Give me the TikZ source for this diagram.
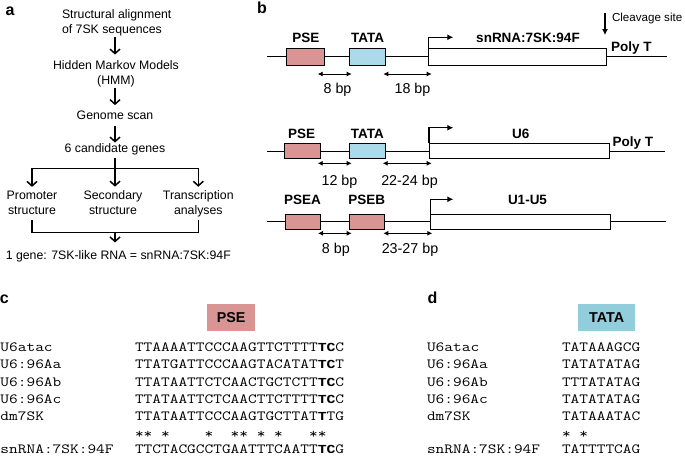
\documentclass[tikz,border=0pt]{standalone}
\usepackage{fontspec}
\setmainfont{Liberation Sans}
\newfontfamily\bmono{Liberation Mono}[Scale=0.875]
\usepackage{graphicx}
\usetikzlibrary{arrows.meta,calc}
\definecolor{psepink}{RGB}{217,149,148}
\definecolor{tatablue}{RGB}{172,218,235}
\definecolor{tatablue2}{RGB}{146,205,220}
\newcommand{\sq}[1]{\scalebox{1.207}[1]{\fontsize{14}{14}\selectfont\ttfamily #1}}
\newcommand{\bt}[1]{{\bmono\bfseries #1}}
\tikzset{
  every node/.style={inner sep=0pt, outer sep=0pt},
  panel/.style={font=\fontsize{16}{16}\selectfont\bfseries},
  flow/.style={font=\fontsize{12.3}{15}\selectfont, align=center},
  barrow/.style={line width=1.5pt, -{Straight Barb[length=4.5pt,width=10pt]}},
  treeline/.style={line width=1.1pt},
  lbl/.style={font=\fontsize{13.5}{13.5}\selectfont\bfseries},
  bplbl/.style={font=\fontsize{14.3}{14.3}\selectfont, anchor=base},
  dna/.style={line width=0.9pt},
  gbox/.style={draw, line width=0.8pt, rectangle},
  dbl/.style={line width=0.9pt, {Latex[length=5pt,width=5pt]}-{Latex[length=5pt,width=5pt]}},
  tss/.style={line width=1.1pt, -{Latex[length=6pt,width=6pt]}},
  mono/.style={anchor=base west},
  tag/.style={font=\fontsize{14.3}{14.3}\selectfont\bfseries}
}
\begin{document}
\begin{tikzpicture}[x=1pt,y=-1pt]
\useasboundingbox (0,0) rectangle (685,456);
% ---------------- panel a
\node[panel] (la) at (10,11.7) {a};
\node[flow, align=left] (n1) at (116.7,22.6) {Structural alignment\\of 7SK sequences};
\node[flow] (n2) at (116,74.2) {Hidden Markov Models\\(HMM)};
\node[flow] (n3) at (115,114.9) {Genome scan};
\node[flow] (n4) at (115,149.5) {6 candidate genes};
\node[flow] (p1) at (32,202.4) {Promoter\\structure};
\node[flow] (p2) at (113,202.4) {Secondary\\structure};
\node[flow] (p3) at (198.3,203.7) {Transcription\\analyses};
\node[flow] (n5) at (118.3,256.2) {1 gene: 7SK-like RNA = snRNA:7SK:94F};
\coordinate (split) at (115,168.3);
\coordinate (join) at (115,232.7);
\draw[barrow, shorten <=1.3pt, shorten >=6.4pt] (n1.south -| n3) -- (n2.north -| n3);
\draw[barrow, shorten <=0.3pt, shorten >=5.4pt] (n2.south -| n3) -- (n3.north);
\draw[barrow, shorten <=7.1pt, shorten >=1.2pt] (n3.south) -- (n4.north);
\draw[barrow, shorten <=3pt, shorten >=3.7pt] (n4.south) -- (n4.south |- p2.north);
\draw[treeline] (p1.north |- split) -- (p3.north |- split);
\draw[barrow, shorten >=3.7pt] (p1.north |- split) -- (p1.north);
\draw[barrow, shorten >=3.7pt] (p3.north |- split) -- (p3.north);
\draw[treeline] ([yshift=-5.6pt]p1.south) |- (join) -| ([yshift=-3pt]p3.south);
\draw[barrow, shorten >=8pt] (join) -- (n5.north -| join);
% ---------------- panel b
\node[panel] (lb) at (262,7.5) {b};
% row 1
\coordinate (r1a) at (267,56.7); \coordinate (r1b) at (667,56.7);
\draw[dna] (r1a) -- (r1b);
\node[gbox, fill=psepink, minimum width=37.3pt, minimum height=16.7pt] (pse1) at (305.35,56.65) {};
\node[gbox, fill=tatablue, minimum width=36.4pt, minimum height=16.7pt] (tata1) at (367.5,56.65) {};
\node[gbox, fill=white, minimum width=178.4pt, minimum height=16.7pt] (g1) at (517.5,56.65) {};
\node[lbl] (pse1l) at (305.8,38.3) {PSE};
\node[lbl] (tata1l) at (367.5,38.3) {TATA};
\node[lbl] (g1l) at (528,38.3) {snRNA:7SK:94F};
\draw[tss] (g1.north west) -- ++(0,-11) -- ++(25,0);
\node[lbl, anchor=base west] (poly1) at (611,51.4) {Poly T};
\node[font=\fontsize{11.6}{11.6}\selectfont, anchor=base west] (cleave) at (612,21.6) {Cleavage site};
\draw[line width=1.2pt, -{Latex[length=6pt,width=6pt]}] (cleave.north west) ++(-7,0) -- ++(0,21.9);
\coordinate (d1a) at (317.7,74); \coordinate (d1b) at (351.7,74);
\coordinate (d1c) at (383.3,74); \coordinate (d1d) at (431.7,74);
\draw[dbl] (d1a) -- (d1b);
\draw[dbl] (d1c) -- (d1d);
\node[bplbl] (bp1a) at (337.5,93.5) {8 bp};
\node[bplbl] (bp1b) at (412.5,93.5) {18 bp};
% row 2
\coordinate (r2a) at (267,151.5); \coordinate (r2b) at (665,151.5);
\draw[dna] (r2a) -- (r2b);
\node[gbox, fill=psepink, minimum width=35.7pt, minimum height=15pt] (pse2) at (302.15,150.8) {};
\node[gbox, fill=tatablue, minimum width=35.7pt, minimum height=15pt] (tata2) at (367.15,150.8) {};
\node[gbox, fill=white, minimum width=180pt, minimum height=15pt] (g2) at (519,150.8) {};
\node[lbl] (pse2l) at (301.7,134.3) {PSE};
\node[lbl] (tata2l) at (367.3,134.3) {TATA};
\node[lbl] (g2l) at (520.8,134.3) {U6};
\draw[tss] (g2.north west) -- ++(0,-15.6) -- ++(24.3,0);
\node[lbl, anchor=base west] (poly2) at (612.7,146.4) {Poly T};
\coordinate (d2a) at (317.7,163.3); \coordinate (d2b) at (351.7,163.3);
\coordinate (d2c) at (382.7,163.3); \coordinate (d2d) at (431.7,163.3);
\draw[dbl] (d2a) -- (d2b);
\draw[dbl] (d2c) -- (d2d);
\node[bplbl] (bp2a) at (339.5,185.2) {12 bp};
\node[bplbl] (bp2b) at (409.5,185.2) {22-24 bp};
% row 3
\coordinate (r3a) at (267,221.7); \coordinate (r3b) at (666,221.7);
\draw[dna] (r3a) -- (r3b);
\node[gbox, fill=psepink, minimum width=35pt, minimum height=15pt] (pse3) at (302.5,221.8) {};
\node[gbox, fill=psepink, minimum width=35pt, minimum height=15pt] (pseb3) at (366.8,221.8) {};
\node[gbox, fill=white, minimum width=179.3pt, minimum height=15pt] (g3) at (520.35,221.8) {};
\node[lbl] (pse3l) at (302.5,200) {PSEA};
\node[lbl] (pseb3l) at (366.7,200) {PSEB};
\node[lbl] (g3l) at (527.5,200) {U1-U5};
\draw[tss] (g3.north west) -- ++(0,-15) -- ++(22.6,0);
\coordinate (d3a) at (318,233.3); \coordinate (d3b) at (351.7,233.3);
\coordinate (d3c) at (383.3,233.3); \coordinate (d3d) at (432.3,233.3);
\draw[dbl] (d3a) -- (d3b);
\draw[dbl] (d3c) -- (d3d);
\node[bplbl] (bp3a) at (335.8,253.5) {8 bp};
\node[bplbl] (bp3b) at (410,253.5) {23-27 bp};
% ---------------- panel c
\node[panel] (lc) at (4.2,299) {c};
\node[fill=psepink, minimum width=47.7pt, minimum height=26.7pt, tag] (psec) at (231.15,317.35) {PSE};
\node[mono] (c1n) at (0.5,351.3) {\sq{U6atac}};
\node[mono] (c2n) at (0.5,368.7) {\sq{U6:96Aa}};
\node[mono] (c3n) at (0.5,386.0) {\sq{U6:96Ab}};
\node[mono] (c4n) at (0.5,403.4) {\sq{U6:96Ac}};
\node[mono] (c5n) at (0.5,420.7) {\sq{dm7SK}};
\node[mono] (c6n) at (0.5,453.6) {\sq{snRNA:7SK:94F}};
\node[mono] (c1s) at (135,351.3) {\sq{TTAAAATTCCCAAGTTCTTTT\bt{TC}C}};
\node[mono] (c2s) at (135,368.7) {\sq{TTATGATTCCCAAGTACATAT\bt{TC}T}};
\node[mono] (c3s) at (135,386.0) {\sq{TTATAATTCTCAACTGCTCTT\bt{TC}C}};
\node[mono] (c4s) at (135,403.4) {\sq{TTATAATTCTCAACTTCTTTT\bt{TC}C}};
\node[mono] (c5s) at (135,420.7) {\sq{TTATAATTCCCAAGTGCTTAT\bt{T}TG}};
\node[mono] (cst) at (135,438.3) {\sq{**~*~~~~*~~**~*~*~~~**}};
\node[mono] (c6s) at (135,453.6) {\sq{TTCTACGCCTGAATTTCAATT\bt{TC}G}};
% ---------------- panel d
\node[panel] (ld) at (432.5,297.5) {d};
\node[fill=tatablue2, minimum width=56.7pt, minimum height=26.7pt, tag] (tatad) at (606.65,317.35) {TATA};
\node[mono] (d1n) at (427,351.3) {\sq{U6atac}};
\node[mono] (d2n) at (427,368.7) {\sq{U6:96Aa}};
\node[mono] (d3n) at (427,386.0) {\sq{U6:96Ab}};
\node[mono] (d4n) at (427,403.4) {\sq{U6:96Ac}};
\node[mono] (d5n) at (427,420.7) {\sq{dm7SK}};
\node[mono] (d6n) at (427,453.6) {\sq{snRNA:7SK:94F}};
\node[mono] (d1s) at (562,351.3) {\sq{TATAAAGCG}};
\node[mono] (d2s) at (562,368.7) {\sq{TATATATAG}};
\node[mono] (d3s) at (562,386.0) {\sq{TTTATATAG}};
\node[mono] (d4s) at (562,403.4) {\sq{TATATATAG}};
\node[mono] (d5s) at (562,420.7) {\sq{TATAAATAC}};
\node[mono] (dst) at (562,438.3) {\sq{*~*}};
\node[mono] (d6s) at (562,453.6) {\sq{TATTTTCAG}};
\end{tikzpicture}
\end{document}
